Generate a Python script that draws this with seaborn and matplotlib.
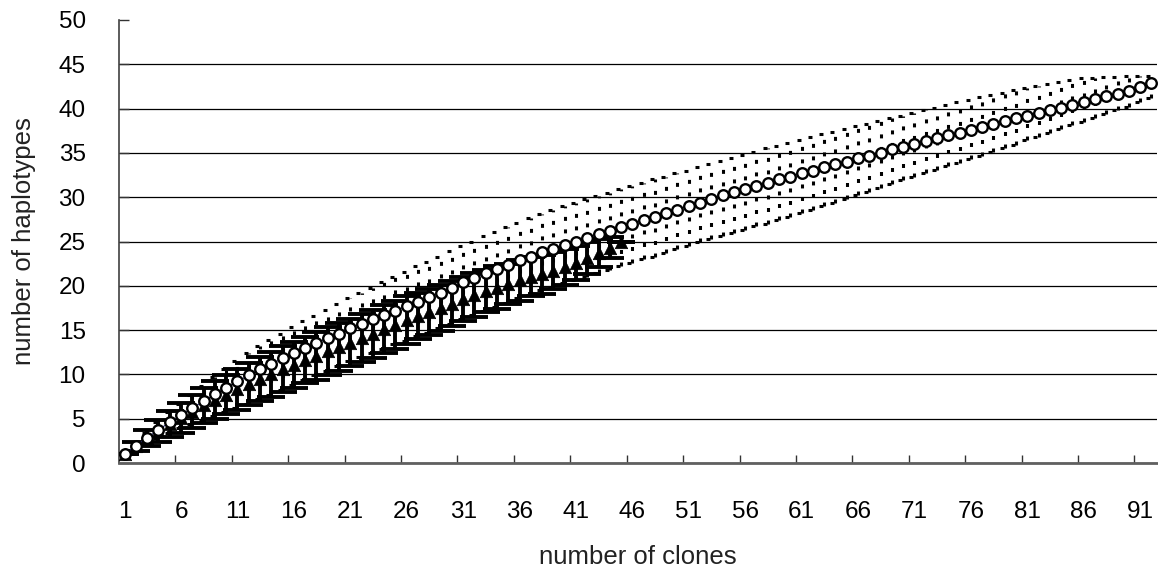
import numpy as np
import pandas as pd
import matplotlib
matplotlib.use("Agg")
import matplotlib.pyplot as plt
import seaborn as sns

# --- data ---
clones = list(range(1, 93))

circle_mean = [1.0, 1.95, 2.85, 3.75, 4.6, 5.4, 6.2, 7.0, 7.75, 8.5,
               9.2, 9.9, 10.6, 11.2, 11.8, 12.4, 13.0, 13.5, 14.1, 14.6,
               15.2, 15.7, 16.2, 16.7, 17.2, 17.7, 18.2, 18.7, 19.2, 19.8,
               20.4, 20.9, 21.4, 21.9, 22.4, 22.9, 23.3, 23.8, 24.2, 24.6,
               25.0, 25.4, 25.8, 26.2, 26.6, 27.0, 27.4, 27.8, 28.2, 28.6,
               29.0, 29.4, 29.8, 30.2, 30.6, 30.9, 31.3, 31.6, 32.0, 32.3,
               32.7, 33.0, 33.4, 33.7, 34.0, 34.4, 34.7, 35.0, 35.4, 35.7,
               36.0, 36.3, 36.7, 37.0, 37.3, 37.6, 37.9, 38.3, 38.6, 38.9,
               39.2, 39.5, 39.8, 40.1, 40.4, 40.8, 41.1, 41.4, 41.7, 42.0,
               42.4, 42.9]

circle_hi = [1.0, 2.2, 3.4, 4.6, 5.7, 6.7, 7.7, 8.7, 9.7, 10.6,
             11.5, 12.4, 13.2, 13.9, 14.6, 15.3, 16.0, 16.6, 17.3, 17.9,
             18.6, 19.2, 19.8, 20.4, 21.0, 21.6, 22.2, 22.7, 23.3, 23.9,
             24.5, 25.0, 25.6, 26.1, 26.6, 27.1, 27.6, 28.1, 28.6, 29.0,
             29.4, 29.8, 30.1, 30.5, 30.9, 31.3, 31.6, 32.0, 32.3, 32.7,
             33.0, 33.4, 33.7, 34.1, 34.4, 34.8, 35.1, 35.5, 35.8, 36.1,
             36.5, 36.8, 37.1, 37.4, 37.7, 38.0, 38.3, 38.6, 38.9, 39.2,
             39.5, 39.8, 40.1, 40.4, 40.7, 41.0, 41.3, 41.5, 41.8, 42.1,
             42.3, 42.6, 42.8, 43.0, 43.2, 43.4, 43.5, 43.6, 43.6, 43.7,
             43.7, 43.7]

circle_lo = [1.0, 1.65, 2.25, 2.85, 3.4, 3.9, 4.4, 4.9, 5.35, 5.8,
             6.2, 6.7, 7.2, 7.7, 8.2, 8.8, 9.4, 9.9, 10.4, 10.9,
             11.5, 12.0, 12.4, 12.9, 13.4, 13.8, 14.3, 14.7, 15.2, 15.7,
             16.2, 16.7, 17.1, 17.6, 18.1, 18.6, 19.0, 19.5, 19.9, 20.3,
             20.6, 21.0, 21.4, 21.8, 22.2, 22.6, 23.0, 23.3, 23.7, 24.1,
             24.5, 24.9, 25.3, 25.6, 26.0, 26.3, 26.7, 27.0, 27.4, 27.8,
             28.2, 28.6, 29.0, 29.4, 29.8, 30.2, 30.6, 31.0, 31.5, 31.9,
             32.3, 32.7, 33.1, 33.5, 33.9, 34.3, 34.7, 35.1, 35.5, 35.9,
             36.4, 36.8, 37.3, 37.7, 38.1, 38.5, 38.9, 39.4, 39.8, 40.2,
             40.7, 41.2]

tri_clones = list(range(1, 46))

tri_mean = [1.0, 1.9, 2.8, 3.6, 4.4, 5.1, 5.8, 6.5, 7.1, 7.7,
            8.3, 8.9, 9.5, 10.0, 10.6, 11.1, 11.6, 12.1, 12.6, 13.1,
            13.6, 14.1, 14.6, 15.1, 15.6, 16.1, 16.6, 17.0, 17.5, 18.0,
            18.5, 19.0, 19.4, 19.8, 20.2, 20.6, 21.0, 21.3, 21.7, 22.1,
            22.6, 23.1, 23.7, 24.3, 24.9]

tri_err = [0.0, 0.5, 0.9, 1.2, 1.5, 1.7, 1.9, 2.0, 2.1, 2.2,
           2.3, 2.4, 2.5, 2.5, 2.6, 2.6, 2.6, 2.7, 2.7, 2.7,
           2.7, 2.7, 2.7, 2.7, 2.7, 2.7, 2.6, 2.6, 2.6, 2.5,
           2.5, 2.5, 2.4, 2.4, 2.3, 2.3, 2.2, 2.2, 2.1, 2.0,
           1.9, 1.8, 1.6, 1.2, 0.0]

x_labels = [str(v) for v in range(1, 92, 5)]
y_ticks = list(range(0, 51, 5))

circ = pd.DataFrame({"clones": clones, "mean": circle_mean,
                     "lo": circle_lo, "hi": circle_hi})
tri = pd.DataFrame({"clones": tri_clones, "mean": tri_mean, "err": tri_err})

# --- style ---
sns.set_theme(style="white")
plt.rcParams["font.family"] = ["Liberation Sans", "DejaVu Sans"]

fig = plt.figure(figsize=(11.58, 5.72), dpi=100)
ax = fig.add_axes([119 / 1158, 1 - 463 / 572, (1157 - 119) / 1158, (463 - 20) / 572])

dotted = (0, (1.3, 2.8))

# dotted error bars of the circle series
bars = ax.errorbar(circ["clones"], circ["mean"],
                   yerr=[circ["mean"] - circ["lo"], circ["hi"] - circ["mean"]],
                   fmt="none", ecolor="black", elinewidth=2.2, capsize=0, zorder=2)
bars[2][0].set_linestyle(dotted)
ax.hlines(circ["hi"], circ["clones"] - 0.45, circ["clones"] + 0.45,
          colors="black", linewidth=2.2, linestyles=dotted, zorder=2)
ax.hlines(circ["lo"], circ["clones"] - 0.45, circ["clones"] + 0.45,
          colors="black", linewidth=2.2, linestyles=dotted, zorder=2)

# solid error bars of the triangle series
ax.errorbar(tri["clones"], tri["mean"], yerr=tri["err"], fmt="none",
            ecolor="black", elinewidth=2.8, capsize=10, capthick=2.8, zorder=3)
sns.scatterplot(data=tri, x="clones", y="mean", ax=ax, marker="^", s=80,
                color="black", edgecolor="black", linewidth=0.5, zorder=4)

# circle series
sns.lineplot(data=circ, x="clones", y="mean", ax=ax, color="#2a2a7a",
             linewidth=0.8, zorder=5)
sns.scatterplot(data=circ, x="clones", y="mean", ax=ax, marker="o", s=58,
                color="white", edgecolor="black", linewidth=1.7, zorder=6)

# --- axes ---
ax.set_xlim(0.5, 92.5)
ax.set_ylim(0, 50)
ax.set_xticks(range(1, 92, 5))
ax.set_xticklabels(x_labels)
ax.set_xticks(np.arange(5.5, 92, 5), minor=True)
ax.tick_params(axis="x", which="major", length=0, pad=27, labelsize=17.5, colors="black")
ax.tick_params(axis="x", which="minor", direction="in", length=6, width=1.0,
               color="#333333", bottom=True)
ax.set_yticks(y_ticks)
ax.tick_params(axis="y", direction="in", length=7, width=1.0, color="#333333",
               pad=24, labelsize=17.5, labelcolor="black", left=True)

ax.yaxis.grid(True, color="black", linewidth=0.9)
ax.get_ygridlines()[-1].set_visible(False)
ax.set_axisbelow(True)

for side in ["top", "right"]:
    ax.spines[side].set_visible(False)
ax.spines["left"].set_color("#404040")
ax.spines["left"].set_linewidth(1.2)
ax.spines["bottom"].set_color("#606060")
ax.spines["bottom"].set_linewidth(2.0)

ax.set_xlabel("number of clones", fontsize=18.5, labelpad=16, color="#222222")
ax.set_ylabel("number of haplotypes", fontsize=18.5, labelpad=16, color="#222222")

fig.savefig("out.png", dpi=100)
